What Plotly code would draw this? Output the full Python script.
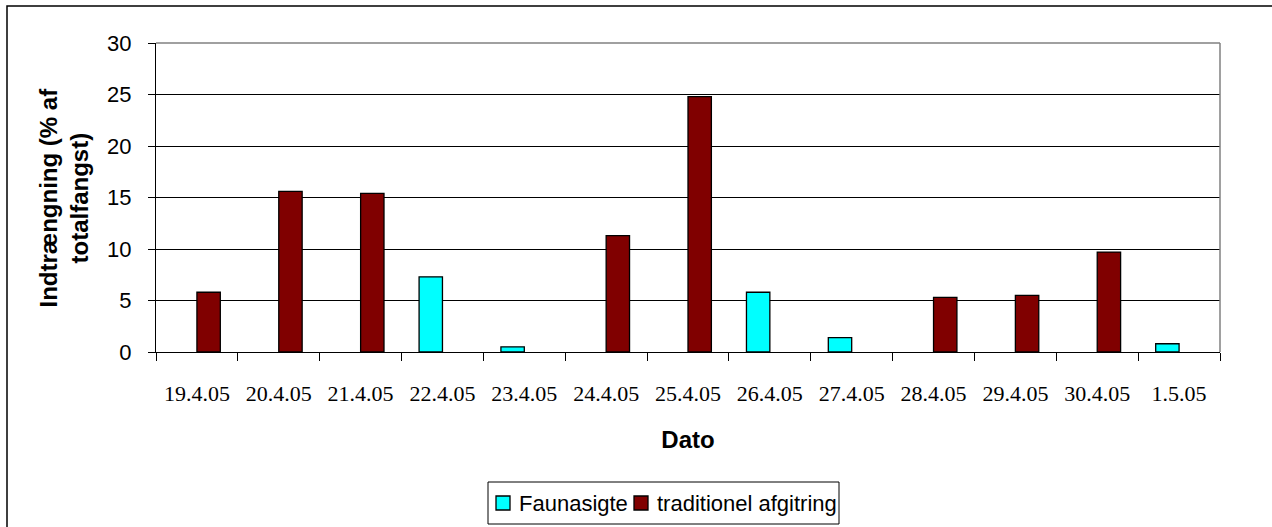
import plotly.graph_objects as go

# Dates of the catches
dates = ["19.4.05", "20.4.05", "21.4.05", "22.4.05", "23.4.05", "24.4.05", "25.4.05",
         "26.4.05", "27.4.05", "28.4.05", "29.4.05", "30.4.05", "1.5.05"]

# Penetration (% of total catch) per method; None where the method was not used
faunasigte = [None, None, None, 7.3, 0.5, None, None, 5.8, 1.4, None, None, None, 0.8]
traditionel = [5.8, 15.6, 15.4, None, None, 11.3, 24.8, None, None, 5.3, 5.5, 9.7, None]

series_names = ["Faunasigte", "traditionel afgitring"]
series_colors = ["#00FFFF", "#800000"]

y_ticks = [0, 5, 10, 15, 20, 25, 30]

fig = go.Figure()
for name, vals, col in zip(series_names, [faunasigte, traditionel], series_colors):
    fig.add_trace(go.Bar(
        x=dates, y=vals, name=name,
        marker=dict(color=col, line=dict(color="black", width=1.3)),
    ))

L, R, T, B = 156, 52, 43, 175
W, H = 1272, 527
pw, ph = W - L - R, H - T - B


def px_x(p):
    return (p - L) / pw


def px_y(p):
    return (H - B - p) / ph


shapes = [
    # plot area border (top and right)
    dict(type="line", xref="paper", yref="paper", x0=0, x1=1, y0=1, y1=1,
         line=dict(color="#808080", width=1.5), layer="above"),
    dict(type="line", xref="paper", yref="paper", x0=1, x1=1, y0=0, y1=1,
         line=dict(color="#808080", width=1.5), layer="above"),
    # chart area border
    dict(type="rect", xref="paper", yref="paper",
         x0=px_x(7), x1=px_x(1275), y0=px_y(6), y1=px_y(530),
         line=dict(color="black", width=1.5), layer="above"),
    # legend frame
    dict(type="rect", xref="paper", yref="paper",
         x0=px_x(488), x1=px_x(839), y0=px_y(482), y1=px_y(524),
         line=dict(color="black", width=1), fillcolor="white", layer="above"),
]

annotations = [dict(
    text="<b>Indtrængning (% af<br>totalfangst)</b>",
    xref="paper", yref="paper",
    x=px_x(63), y=0.5, xanchor="center", yanchor="middle",
    textangle=-90, showarrow=False,
    font=dict(size=24),
)]

# legend entries: swatch + label
legend_mid = 503
swatch_left = [496, 634]
for name, col, sx in zip(series_names, series_colors, swatch_left):
    shapes.append(dict(
        type="rect", xref="paper", yref="paper",
        x0=px_x(sx), x1=px_x(sx + 14), y0=px_y(legend_mid - 7), y1=px_y(legend_mid + 7),
        line=dict(color="black", width=1.3), fillcolor=col, layer="above",
    ))
    annotations.append(dict(
        text=name, xref="paper", yref="paper",
        x=px_x(sx + 21), y=px_y(legend_mid), xanchor="left", yanchor="middle",
        showarrow=False, font=dict(size=22),
    ))

fig.update_layout(
    width=W, height=H,
    margin=dict(l=L, r=R, t=T, b=B, autoexpand=False),
    paper_bgcolor="white", plot_bgcolor="white",
    barmode="group", bargap=0.4286, bargroupgap=0,
    font=dict(family="Arial, Liberation Sans, sans-serif", size=22, color="black"),
    showlegend=False,
    xaxis=dict(
        type="category",
        showline=True, linecolor="black", linewidth=1,
        ticks="outside", tickson="boundaries", ticklen=8, tickcolor="black",
        tickfont=dict(family="Times New Roman, Liberation Serif, serif", size=22),
        ticklabelstandoff=22,
        showgrid=False,
        title=dict(text="Dato", font=dict(size=24, weight="bold"), standoff=25),
    ),
    yaxis=dict(
        range=[0, 30], tickvals=y_ticks,
        showline=True, linecolor="black", linewidth=1,
        ticks="outside", ticklen=7, tickcolor="black",
        tickfont=dict(size=22),
        ticklabelstandoff=12,
        showgrid=True, gridcolor="black", gridwidth=1,
        zeroline=False,
    ),
    annotations=annotations,
    shapes=shapes,
)

fig.write_html("out.html")
